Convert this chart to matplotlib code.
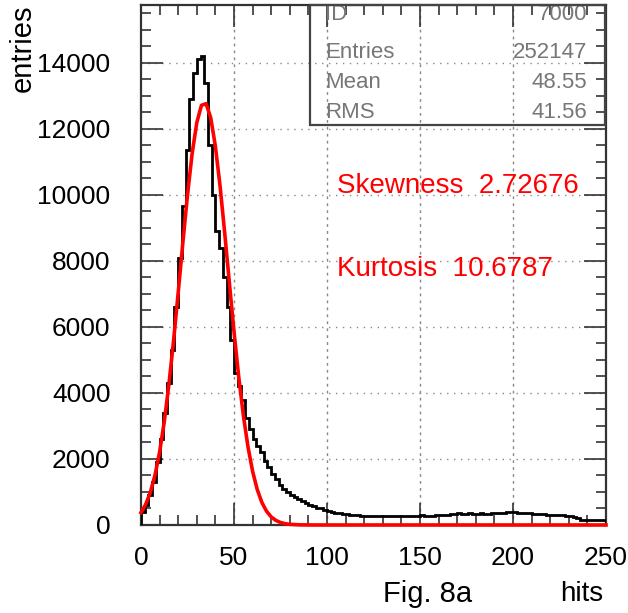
import numpy as np
import matplotlib
matplotlib.use("Agg")
import matplotlib.pyplot as plt
from matplotlib.ticker import MultipleLocator

# histogram: 125 bins of width 2 between 0 and 250
bin_edges = np.arange(0, 252, 2)
hist_counts = [
    380, 600, 900, 1300, 1900, 2600, 3400, 4300, 5300, 6600,
    8100, 9650, 11350, 12900, 13700, 14100, 14200, 13400, 11500, 10000,
    8900, 8400, 7500, 6600, 5600, 4600, 4200, 3800, 3250, 2900,
    2600, 2400, 2200, 1950, 1750, 1550, 1400, 1200, 1100, 1000,
    920, 850, 780, 720, 660, 610, 570, 530, 500, 460,
    420, 400, 370, 350, 335, 320, 305, 300, 290, 285,
    280, 275, 280, 270, 275, 265, 270, 265, 275, 260,
    270, 265, 270, 275, 280, 290, 270, 280, 285, 290,
    300, 295, 310, 320, 330, 360, 340, 330, 370, 340,
    330, 350, 345, 330, 350, 360, 350, 370, 380, 400,
    390, 360, 370, 375, 350, 345, 340, 320, 330, 310,
    305, 300, 310, 290, 285, 280, 250, 200, 150, 150,
    140, 150, 145, 150, 160,
]

# fitted curve
fit_x = [0, 2.5, 5, 7.5, 10, 12.5, 15, 17.5, 20, 22.5, 25, 27.5, 30, 32.5,
         35, 37.5, 40, 42.5, 45, 47.5, 50, 52.5, 55, 57.5, 60, 62.5, 65,
         67.5, 70, 72.5, 75, 77.5, 80, 85, 90, 95, 250]
fit_y = [376, 620, 983, 1502, 2207, 3123, 4253, 5577, 7039, 8550, 9998,
         11253, 12190, 12712, 12761, 12330, 11468, 10267, 8848, 7340, 5861,
         4505, 3333, 2373, 1627, 1073, 681, 417, 245, 139, 76, 40, 20, 5, 1,
         0, 0]

stat_names = ["ID", "Entries", "Mean", "RMS"]
stat_values = ["7000", "252147", "48.55", "41.56"]

plt.rcParams["font.family"] = ["Liberation Sans", "DejaVu Sans"]

fig = plt.figure(figsize=(6.28, 6.13), dpi=100)
ax = fig.add_axes([141 / 628, 88 / 613, 465 / 628, 520 / 613])

ax.stairs(hist_counts, bin_edges, color="black", lw=2, zorder=3)
ax.plot(fit_x, fit_y, color="#ff0000", lw=2.6, zorder=4, clip_on=False)

ax.set_xlim(0, 250)
ax.set_ylim(0, 15750)
ax.xaxis.set_major_locator(MultipleLocator(50))
ax.xaxis.set_minor_locator(MultipleLocator(10))
ax.yaxis.set_major_locator(MultipleLocator(2000))
ax.yaxis.set_minor_locator(MultipleLocator(500))

ax.tick_params(which="both", direction="in", top=True, right=True,
               width=1.2, color="#333333")
ax.tick_params(which="major", length=16, labelsize=19)
ax.tick_params(which="minor", length=7)
ax.tick_params(axis="y", pad=22)
ax.tick_params(axis="x", pad=15)

for y in range(2000, 16000, 2000):
    ax.axhline(y, color="#888888", lw=1, ls=(0, (1, 4)), zorder=1)
for x in range(50, 250, 50):
    ax.axvline(x, color="#888888", lw=1, ls=(0, (2, 3)), zorder=1)

for s in ax.spines.values():
    s.set_linewidth(1.6)
    s.set_color("#333333")

# stats box (transparent, grid shows through)
fig.patches.append(plt.Rectangle((310 / 628, (613 - 125) / 613),
                                 (605 - 310) / 628, 120 / 613,
                                 transform=fig.transFigure, fill=False,
                                 edgecolor="#444444", lw=1.6, zorder=5))
row_y = [14, 52, 82, 112]
for name, val, yy in zip(stat_names, stat_values, row_y):
    fig.text(325 / 628, 1 - yy / 613, name, color="#777777", fontsize=16,
             va="center", ha="left")
    fig.text(587 / 628, 1 - yy / 613, val, color="#777777", fontsize=16,
             va="center", ha="right")

fig.text(337 / 628, 1 - 186 / 613, "Skewness  2.72676", color="#ff0000",
         fontsize=20, va="center", ha="left")
fig.text(337 / 628, 1 - 269 / 613, "Kurtosis  10.6787", color="#ff0000",
         fontsize=20, va="center", ha="left")

fig.text(23 / 628, 1 - 5 / 613, "entries", rotation=90, fontsize=21,
         va="top", ha="center")
fig.text(428 / 628, 1 - 594 / 613, "Fig. 8a", fontsize=21, va="center",
         ha="center")
fig.text(582 / 628, 1 - 594 / 613, "hits", fontsize=20, va="center",
         ha="center")

fig.savefig("out.png", dpi=100)
